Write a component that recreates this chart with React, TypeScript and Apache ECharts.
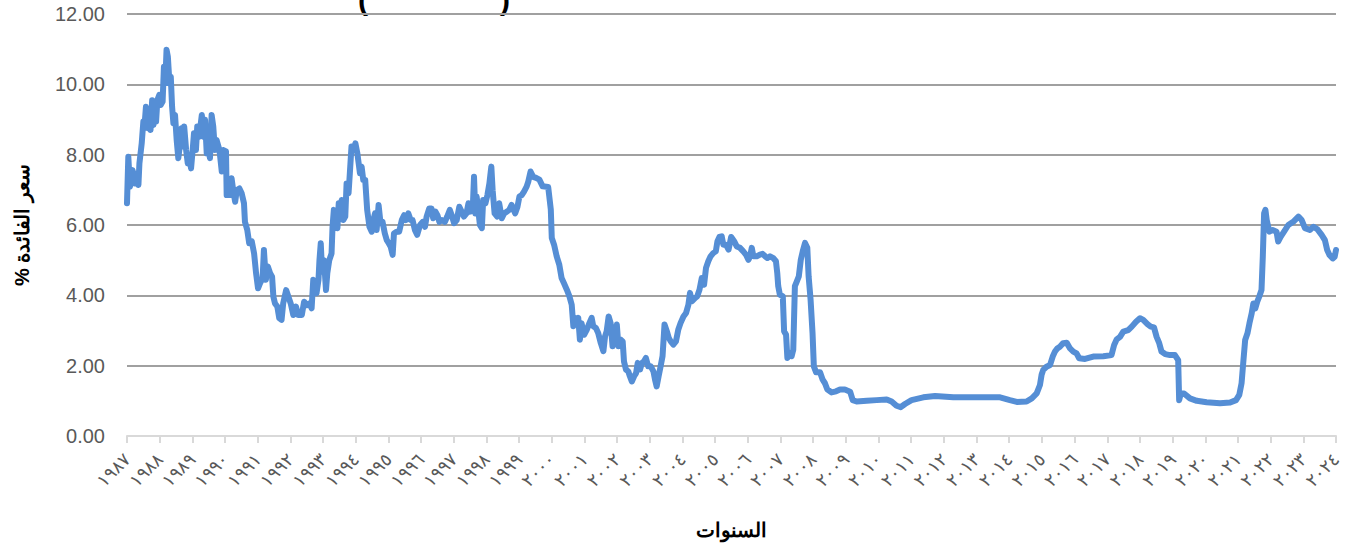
import React, { useEffect, useRef } from "react";
import * as echarts from "echarts";

const yearTicks = Array.from({ length: 38 }, (_, i) => 1987 + i);

const years: number[] = [
  1987.00, 1987.04, 1987.09, 1987.17, 1987.24, 1987.32, 1987.35, 1987.38, 1987.45, 1987.50,
  1987.53, 1987.58, 1987.65, 1987.68, 1987.72, 1987.77, 1987.81, 1987.86, 1987.89, 1987.93,
  1987.99, 1988.03, 1988.09, 1988.13, 1988.17, 1988.21, 1988.25, 1988.30, 1988.34, 1988.38,
  1988.42, 1988.47, 1988.52, 1988.57, 1988.62, 1988.67, 1988.72, 1988.75, 1988.81, 1988.86,
  1988.91, 1988.96, 1989.01, 1989.05, 1989.11, 1989.15, 1989.21, 1989.29, 1989.34, 1989.39,
  1989.44, 1989.49, 1989.54, 1989.59, 1989.64, 1989.69, 1989.74, 1989.83, 1989.90, 1989.95,
  1990.03, 1990.05, 1990.10, 1990.15, 1990.20, 1990.25, 1990.31, 1990.36, 1990.44, 1990.51,
  1990.58, 1990.61, 1990.68, 1990.74, 1990.82, 1990.89, 1990.95, 1991.01, 1991.07, 1991.15,
  1991.19, 1991.25, 1991.31, 1991.38, 1991.44, 1991.48, 1991.53, 1991.60, 1991.66, 1991.73,
  1991.78, 1991.87, 1991.94, 1992.01, 1992.09, 1992.17, 1992.24, 1992.35, 1992.42, 1992.50,
  1992.58, 1992.65, 1992.70, 1992.75, 1992.80, 1992.86, 1992.89, 1992.93, 1992.97, 1993.03,
  1993.09, 1993.13, 1993.19, 1993.26, 1993.29, 1993.33, 1993.40, 1993.44, 1993.48, 1993.52,
  1993.57, 1993.62, 1993.68, 1993.72, 1993.78, 1993.82, 1993.87, 1993.93, 1993.99, 1994.05,
  1994.09, 1994.13, 1994.18, 1994.23, 1994.29, 1994.35, 1994.42, 1994.49, 1994.54, 1994.59,
  1994.64, 1994.70, 1994.76, 1994.82, 1994.89, 1994.95, 1995.01, 1995.07, 1995.13, 1995.17,
  1995.25, 1995.33, 1995.41, 1995.48, 1995.54, 1995.61, 1995.68, 1995.74, 1995.81, 1995.88,
  1995.97, 1996.05, 1996.12, 1996.17, 1996.25, 1996.32, 1996.37, 1996.44, 1996.50, 1996.56,
  1996.64, 1996.73, 1996.80, 1996.88, 1996.95, 1997.01, 1997.09, 1997.17, 1997.24, 1997.31,
  1997.39, 1997.45, 1997.50, 1997.58, 1997.62, 1997.66, 1997.70, 1997.75, 1997.80, 1997.86,
  1997.90, 1997.97, 1998.03, 1998.09, 1998.15, 1998.19, 1998.25, 1998.33, 1998.39, 1998.47,
  1998.54, 1998.62, 1998.70, 1998.77, 1998.82, 1998.88, 1998.95, 1999.01, 1999.08, 1999.15,
  1999.23, 1999.28, 1999.35, 1999.43, 1999.52, 1999.62, 1999.72, 1999.89, 1999.97, 2000.00,
  2000.07, 2000.15, 2000.23, 2000.30, 2000.37, 2000.46, 2000.54, 2000.61, 2000.66, 2000.71,
  2000.76, 2000.81, 2000.86, 2000.91, 2000.99, 2001.07, 2001.15, 2001.22, 2001.27, 2001.35,
  2001.42, 2001.50, 2001.58, 2001.63, 2001.68, 2001.74, 2001.80, 2001.86, 2001.93, 2001.99,
  2002.04, 2002.11, 2002.17, 2002.21, 2002.27, 2002.34, 2002.39, 2002.45, 2002.52, 2002.58,
  2002.63, 2002.70, 2002.76, 2002.82, 2002.88, 2002.95, 2003.03, 2003.11, 2003.16, 2003.21,
  2003.27, 2003.33, 2003.39, 2003.45, 2003.52, 2003.58, 2003.64, 2003.72, 2003.80, 2003.87,
  2003.94, 2004.03, 2004.11, 2004.18, 2004.23, 2004.29, 2004.38, 2004.45, 2004.52, 2004.59,
  2004.66, 2004.72, 2004.79, 2004.86, 2004.94, 2005.02, 2005.07, 2005.13, 2005.20, 2005.25,
  2005.33, 2005.41, 2005.49, 2005.58, 2005.66, 2005.76, 2005.86, 2005.94, 2006.02, 2006.07,
  2006.12, 2006.17, 2006.27, 2006.37, 2006.45, 2006.53, 2006.60, 2006.68, 2006.78, 2006.86,
  2006.90, 2006.93, 2006.98, 2007.07, 2007.11, 2007.17, 2007.21, 2007.27, 2007.34, 2007.39,
  2007.44, 2007.50, 2007.56, 2007.62, 2007.68, 2007.75, 2007.82, 2007.86, 2007.92, 2007.98,
  2008.02, 2008.09, 2008.21, 2008.29, 2008.36, 2008.43, 2008.56, 2008.70, 2008.82, 2008.97,
  2009.13, 2009.21, 2009.33, 2009.64, 2009.94, 2010.25, 2010.40, 2010.55, 2010.68, 2010.81,
  2011.01, 2011.37, 2011.73, 2012.29, 2013.10, 2013.72, 2014.02, 2014.23, 2014.53, 2014.69,
  2014.84, 2014.94, 2014.99, 2015.04, 2015.14, 2015.25, 2015.33, 2015.40, 2015.47, 2015.55,
  2015.65, 2015.76, 2015.86, 2015.96, 2016.06, 2016.14, 2016.32, 2016.57, 2016.88, 2017.13,
  2017.21, 2017.29, 2017.39, 2017.49, 2017.64, 2017.75, 2017.88, 2018.00, 2018.10, 2018.23,
  2018.33, 2018.43, 2018.51, 2018.59, 2018.66, 2018.77, 2018.92, 2019.07, 2019.17, 2019.20,
  2019.25, 2019.35, 2019.53, 2019.74, 2020.04, 2020.45, 2020.76, 2020.94, 2021.04, 2021.11,
  2021.16, 2021.22, 2021.29, 2021.35, 2021.42, 2021.47, 2021.53, 2021.59, 2021.65, 2021.72,
  2021.76, 2021.80, 2021.84, 2021.88, 2021.96, 2022.06, 2022.18, 2022.23, 2022.31, 2022.41,
  2022.54, 2022.69, 2022.85, 2022.95, 2023.05, 2023.20, 2023.31, 2023.43, 2023.56, 2023.66,
  2023.73, 2023.80, 2023.90, 2023.96, 2024.00,
];

const rates: number[] = [
  6.62, 7.94, 7.09, 7.56, 7.18, 7.47, 7.14, 7.75, 8.32, 8.94,
  8.75, 9.36, 8.75, 9.22, 8.70, 9.55, 8.84, 9.46, 8.94, 9.55,
  9.70, 9.41, 9.51, 10.50, 10.03, 10.98, 10.79, 10.03, 10.22, 9.36,
  8.89, 9.13, 8.42, 7.90, 8.27, 8.75, 8.23, 8.80, 8.13, 7.75,
  7.94, 7.61, 8.13, 8.61, 8.13, 8.80, 8.51, 9.13, 8.51, 8.99,
  8.04, 8.13, 7.90, 9.13, 8.80, 8.13, 8.42, 8.13, 7.52, 8.13,
  8.09, 6.85, 7.28, 6.85, 7.33, 6.99, 6.66, 6.99, 7.04, 6.90,
  6.62, 6.09, 5.86, 5.48, 5.53, 5.19, 4.63, 4.20, 4.34, 4.48,
  5.29, 4.44, 4.82, 4.63, 4.53, 3.96, 3.77, 3.68, 3.35, 3.30,
  3.77, 4.15, 3.96, 3.77, 3.44, 3.68, 3.44, 3.44, 3.82, 3.72,
  3.77, 3.63, 4.44, 4.25, 4.06, 4.44, 5.00, 5.48, 4.67, 5.00,
  4.15, 4.63, 5.00, 5.19, 5.95, 6.43, 6.14, 5.91, 6.62, 6.33,
  6.71, 6.14, 6.24, 7.18, 6.90, 7.47, 8.23, 8.13, 8.32, 8.04,
  7.75, 7.47, 7.66, 7.28, 7.28, 6.43, 5.95, 5.81, 6.14, 6.33,
  5.86, 6.57, 6.05, 6.09, 5.76, 5.57, 5.48, 5.38, 5.15, 5.76,
  5.81, 5.81, 6.14, 6.28, 6.14, 6.33, 6.14, 6.14, 5.86, 5.72,
  6.00, 6.09, 5.95, 6.24, 6.47, 6.47, 6.19, 6.38, 6.28, 6.09,
  6.14, 6.09, 6.24, 6.43, 6.24, 6.05, 6.14, 6.52, 6.38, 6.24,
  6.33, 6.62, 6.38, 6.43, 7.37, 6.33, 6.81, 6.43, 6.00, 5.91,
  6.71, 6.62, 6.85, 7.18, 7.66, 6.99, 6.33, 6.24, 6.62, 6.19,
  6.33, 6.38, 6.43, 6.57, 6.47, 6.33, 6.52, 6.81, 6.85, 6.95,
  7.09, 7.23, 7.52, 7.37, 7.34, 7.29, 7.10, 7.08, 6.44, 5.63,
  5.44, 5.11, 4.87, 4.49, 4.35, 4.16, 3.97, 3.73, 3.12, 3.36,
  3.21, 3.36, 2.74, 3.21, 2.88, 3.02, 3.21, 3.36, 3.12, 3.07,
  2.93, 2.64, 2.41, 2.83, 2.98, 3.40, 3.21, 2.55, 2.88, 3.17,
  2.55, 2.74, 2.69, 2.12, 1.89, 1.84, 1.70, 1.55, 1.70, 1.79,
  2.08, 1.89, 2.08, 2.12, 2.22, 1.98, 1.98, 1.84, 1.60, 1.41,
  1.70, 1.98, 2.27, 3.17, 2.98, 2.79, 2.69, 2.60, 2.69, 3.02,
  3.21, 3.40, 3.50, 3.73, 4.07, 3.83, 3.92, 3.97, 4.16, 4.49,
  4.30, 4.78, 4.97, 5.11, 5.20, 5.25, 5.54, 5.66, 5.68, 5.44,
  5.44, 5.30, 5.66, 5.54, 5.39, 5.35, 5.25, 5.16, 5.01, 5.11,
  5.35, 5.11, 5.11, 5.16, 5.18, 5.11, 5.06, 5.11, 5.06, 4.97,
  4.64, 4.26, 4.02, 3.97, 2.98, 2.88, 2.22, 2.31, 2.27, 2.45,
  4.26, 4.40, 4.54, 5.01, 5.25, 5.49, 5.35, 4.54, 3.88, 2.93,
  1.98, 1.81, 1.81, 1.60, 1.50, 1.33, 1.24, 1.27, 1.32, 1.32,
  1.26, 1.02, 0.98, 1.00, 1.02, 1.04, 0.98, 0.86, 0.82, 0.91,
  1.02, 1.10, 1.14, 1.10, 1.10, 1.10, 1.02, 0.97, 0.98, 1.07,
  1.21, 1.45, 1.74, 1.88, 1.97, 2.02, 2.26, 2.40, 2.49, 2.54,
  2.64, 2.65, 2.49, 2.40, 2.35, 2.21, 2.19, 2.26, 2.27, 2.30,
  2.59, 2.75, 2.82, 2.97, 3.01, 3.11, 3.25, 3.35, 3.30, 3.18,
  3.11, 3.09, 2.82, 2.64, 2.40, 2.33, 2.30, 2.30, 2.16, 1.02,
  1.21, 1.21, 1.07, 1.00, 0.96, 0.93, 0.95, 1.02, 1.17, 1.50,
  2.07, 2.73, 2.92, 3.20, 3.49, 3.77, 3.63, 3.82, 3.96, 4.15,
  5.10, 6.33, 6.43, 6.14, 5.81, 5.86, 5.81, 5.53, 5.67, 5.81,
  6.00, 6.09, 6.24, 6.14, 5.91, 5.86, 5.95, 5.88, 5.72, 5.57,
  5.29, 5.15, 5.05, 5.10, 5.29,
];

const yTicks = [0, 2, 4, 6, 8, 10, 12];

const arabicDigits = "٠١٢٣٤٥٦٧٨٩";
const toArabic = (n: number) =>
  String(n).replace(/[0-9]/g, (d) => arabicDigits[Number(d)]);

export default function App() {
  const ref = useRef<HTMLDivElement>(null);

  useEffect(() => {
    if (!ref.current) return;
    const chart = echarts.init(ref.current, null, { renderer: "svg" });
    const data = years.map((y, i) => [y, rates[i]]);
    chart.setOption({
      animation: false,
      backgroundColor: "#ffffff",
      grid: { left: 127, right: 20, top: 14, bottom: 111, containLabel: false },
      graphic: [
        {
          type: "text",
          left: 358,
          top: -16,
          style: { text: "(", fontSize: 30, fontWeight: "bold", fill: "#000", fontFamily: "Liberation Sans" },
        },
        {
          type: "text",
          left: 500,
          top: -16,
          style: { text: ")", fontSize: 30, fontWeight: "bold", fill: "#000", fontFamily: "Liberation Sans" },
        },
      ],
      xAxis: {
        type: "value",
        min: yearTicks[0],
        max: yearTicks[yearTicks.length - 1],
        interval: 1,
        axisLine: { show: true, lineStyle: { color: "#d9d9d9", width: 2 } },
        axisTick: { show: true, length: 7, lineStyle: { color: "#d9d9d9", width: 2 } },
        splitLine: { show: false },
        axisLabel: {
          rotate: 45,
          margin: 20,
          color: "#595959",
          fontSize: 18,
          fontFamily: "DejaVu Sans",
          formatter: (v: number) => toArabic(v),
        },
        name: "السنوات",
        nameLocation: "middle",
        nameGap: 84,
        nameTextStyle: { fontWeight: "bold", fontSize: 20, color: "#000", fontFamily: "Liberation Sans" },
      },
      yAxis: {
        type: "value",
        min: yTicks[0],
        max: yTicks[yTicks.length - 1],
        interval: 2,
        axisLine: { show: false },
        axisTick: { show: false },
        splitLine: { show: true, showMinLine: false, lineStyle: { color: "#a0a0a0", width: 2 } },
        axisLabel: {
          formatter: (v: number) => v.toFixed(2),
          color: "#595959",
          fontSize: 20,
          margin: 22,
          fontFamily: "Liberation Sans",
        },
        name: "سعر الفائدة %\u200F",
        nameLocation: "middle",
        nameRotate: 90,
        nameGap: 95,
        nameTextStyle: { fontWeight: "bold", fontSize: 20, color: "#000", fontFamily: "Liberation Sans" },
      },
      series: [
        {
          type: "line",
          data,
          showSymbol: false,
          symbol: "none",
          lineStyle: { color: "#558ed5", width: 6, join: "round", cap: "round" },
        },
      ],
    });
    return () => chart.dispose();
  }, []);

  return (
    <div
      ref={ref}
      style={{ position: "fixed", left: 0, top: 0, width: 1356, height: 547 }}
    />
  );
}
